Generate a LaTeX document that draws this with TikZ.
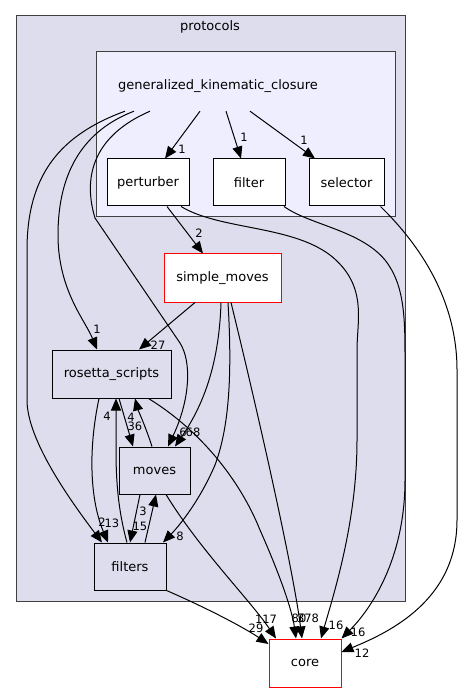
\documentclass[tikz,border=0pt]{standalone}
\usepackage{fontspec}
\setmainfont{DejaVu Sans}
\usetikzlibrary{arrows.meta}
\definecolor{clusterbg}{HTML}{DDDDEE}
\definecolor{innerbg}{HTML}{EEEEFF}
\definecolor{clusterline}{HTML}{404040}
\definecolor{redline}{HTML}{FF0000}
\tikzset{
  cluster/.style={draw=clusterline, line width=1pt},
  dirbox/.style={line width=1pt, rectangle, inner sep=0pt,
    font=\fontsize{13}{15}\selectfont, minimum height=47pt},
  whitebox/.style={dirbox, draw=black, fill=white},
  redbox/.style={dirbox, fill=white, draw=redline},
  greybox/.style={dirbox, draw=black, fill=clusterbg},
  cltext/.style={font=\fontsize{13}{15}\selectfont, inner sep=0pt},
  elabel/.style={font=\fontsize{11.5}{13}\selectfont, inner sep=0pt},
  dep/.style={line width=1pt, -{Triangle[length=12pt,width=10pt]}},
}
\begin{document}
\begin{tikzpicture}[x=1pt, y=-1pt]
\useasboundingbox (0,0) rectangle (463,692);
% clusters
\fill[white] (0,0) rectangle (463,692);
\filldraw[cluster, fill=clusterbg] (16,16) rectangle (405,601);
\node[cltext] (protocols) at (210,27) {protocols};
\filldraw[cluster, fill=innerbg] (96,52) rectangle (395,217);
\node[cltext, minimum height=50pt] (gkc) at (218,86) {generalized\_kinematic\_closure};
% nodes
\node[whitebox, minimum width=82pt] (perturber) at (148,182.5) {perturber};
\node[whitebox, minimum width=72pt] (filter) at (249,182.5) {filter};
\node[whitebox, minimum width=75pt] (selector) at (346.5,182.5) {selector};
\node[redbox, minimum width=117pt, minimum height=48pt] (simplemoves) at (222.5,278) {simple\_moves};
\node[greybox, minimum width=119pt, minimum height=48pt] (rosetta) at (111.5,374) {rosetta\_scripts};
\node[greybox, minimum width=71pt] (moves) at (154.5,470.5) {moves};
\node[greybox, minimum width=72pt] (filters) at (130,566.5) {filters};
\node[redbox, minimum width=72pt, minimum height=48pt] (core) at (305,663) {core};
% edges from generalized_kinematic_closure
\draw[dep] ([xshift=-18pt]gkc.south) -- ([xshift=17pt]perturber.north);
\draw[dep] ([xshift=8pt]gkc.south) -- ([xshift=-8pt]filter.north);
\draw[dep] ([xshift=32pt]gkc.south) -- ([xshift=-31.5pt]selector.north);
\draw[dep] ([xshift=-93pt]gkc.south) .. controls (60,135) and (27,175) .. (27,250)
  -- (27,400) .. controls (27,440) and (70,500) .. ([xshift=-28pt]filters.north);
\draw[dep] ([xshift=-84pt]gkc.south) .. controls (85,130) and (58,170) .. (58,235)
  .. controls (58,290) and (85,320) .. ([xshift=-14.5pt]rosetta.north);
\draw[dep] ([xshift=-68pt]gkc.south) .. controls (95,135) and (82,175) .. (95,218)
  -- (180,343) .. controls (192,362) and (190,400) .. ([xshift=13.5pt]moves.north);
% perturber / filter / selector
\draw[dep] ([xshift=19pt]perturber.south) -- ([xshift=-19.5pt]simplemoves.north);
\draw[dep] ([xshift=33pt]perturber.south) .. controls (220,230) and (290,225) .. (330,255)
  .. controls (368,285) and (357,320) .. (357,350) -- (357,440)
  .. controls (357,520) and (335,590) .. ([xshift=16pt]core.north);
\draw[dep] ([xshift=35pt]filter.south) .. controls (310,225) and (360,230) .. (385,260)
  .. controls (405,285) and (405,320) .. (405,360) -- (405,480)
  .. controls (405,560) and (370,610) .. (core.north east);
\draw[dep] ([xshift=34pt]selector.south) .. controls (420,245) and (457,300) .. (457,370)
  -- (457,520) .. controls (457,600) and (390,632) .. ([yshift=11pt]core.east);
% simple_moves
\draw[dep] ([xshift=-27.5pt]simplemoves.south) -- ([xshift=27.5pt]rosetta.north);
\draw[dep] ([xshift=-1.5pt]simplemoves.south) .. controls (219,370) and (200,410) .. ([xshift=20.5pt]moves.north);
\draw[dep] ([xshift=5.5pt]simplemoves.south) .. controls (232,370) and (230,425) .. (215,465)
  .. controls (200,500) and (180,525) .. ([xshift=33pt]filters.north);
\draw[dep] ([xshift=8.5pt]simplemoves.south) .. controls (250,380) and (292,560) .. ([xshift=-3pt]core.north);
% rosetta_scripts
\draw[dep] ([xshift=37pt]rosetta.south) .. controls (200,430) and (240,480) .. (260,530)
  .. controls (280,575) and (292,610) .. ([xshift=-9pt]core.north);
\draw[dep] ([xshift=7.5pt]rosetta.south) -- ([xshift=-21.5pt]moves.north);
\draw[dep] ([xshift=-12.5pt]rosetta.south) .. controls (88,450) and (90,500) .. ([xshift=-22pt]filters.north);
% moves
\draw[dep] ([xshift=-2.5pt]moves.north) .. controls (145,425) and (138,410) .. ([xshift=23.5pt]rosetta.south);
\draw[dep] ([xshift=11.5pt]moves.south) .. controls (200,550) and (250,600) .. ([xshift=-29pt]core.north);
\draw[dep] ([xshift=-14.5pt]moves.south) -- (filters.north);
% filters
\draw[dep] ([xshift=-3pt]filters.north) .. controls (118,510) and (116,480) .. (116,450) -- ([xshift=4.5pt]rosetta.south);
\draw[dep] ([xshift=15pt]filters.north) -- ([xshift=1.5pt]moves.south);
\draw[dep] (filters.south east) .. controls (200,605) and (240,625) .. ([yshift=19pt]core.west);
% edge labels
\node[elabel] (l1) at (182,149) {1};
\node[elabel] (l2) at (244,137) {1};
\node[elabel] (l3) at (304,140) {1};
\node[elabel] (l4) at (102,522) {2};
\node[elabel] (l5) at (97,329) {1};
\node[elabel] (l6) at (183,432) {6};
\node[elabel] (l7) at (199,233) {2};
\node[elabel] (l8) at (336,625) {16};
\node[elabel] (l9) at (358,632) {16};
\node[elabel] (l10) at (362,653) {12};
\node[elabel] (l11) at (158,345) {27};
\node[elabel] (l12) at (193,432) {68};
\node[elabel] (l13) at (180,536) {8};
\node[elabel] (l14) at (308,618) {378};
\node[elabel] (l15) at (299,618) {80};
\node[elabel] (l16) at (135,426) {36};
\node[elabel] (l17) at (131,417) {4};
\node[elabel] (l18) at (107,416) {4};
\node[elabel] (l19) at (112,523) {13};
\node[elabel] (l20) at (140,526) {15};
\node[elabel] (l21) at (143,511) {3};
\node[elabel] (l22) at (266,619) {117};
\node[elabel] (l23) at (256,628) {29};
\end{tikzpicture}
\end{document}
